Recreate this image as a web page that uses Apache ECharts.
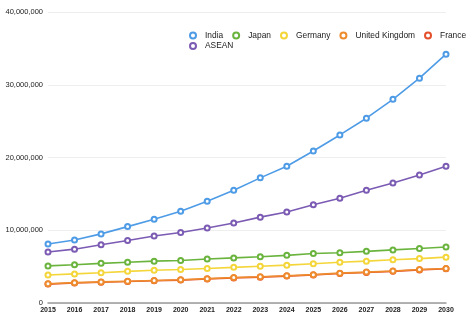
<!DOCTYPE html>
<html>
<head>
<meta charset="utf-8">
<script src="https://cdn.jsdelivr.net/npm/echarts@6/dist/echarts.min.js"></script>
<style>
  html, body { margin: 0; padding: 0; background: #fff; }
  #chart { width: 474px; height: 324px; }
</style>
</head>
<body>
<div id="chart"></div>
<script>
// Years on the category axis
const years = ['2015','2016','2017','2018','2019','2020','2021','2022','2023','2024','2025','2026','2027','2028','2029','2030'];

// Series values
const india   = [8100000, 8650000, 9500000, 10500000, 11500000, 12600000, 14000000, 15500000, 17200000, 18800000, 20900000, 23100000, 25400000, 28000000, 30900000, 34200000];
const asean   = [7000000, 7400000, 8000000, 8600000, 9200000, 9700000, 10300000, 11000000, 11800000, 12500000, 13500000, 14400000, 15500000, 16500000, 17600000, 18800000];
const japan   = [5100000, 5250000, 5450000, 5600000, 5750000, 5850000, 6050000, 6200000, 6350000, 6550000, 6800000, 6900000, 7100000, 7300000, 7500000, 7700000];
const germany = [3850000, 4000000, 4150000, 4350000, 4500000, 4600000, 4750000, 4900000, 5050000, 5200000, 5400000, 5600000, 5750000, 5950000, 6100000, 6300000];
const uk      = [2650000, 2800000, 2900000, 3000000, 3100000, 3200000, 3350000, 3500000, 3600000, 3750000, 3900000, 4100000, 4250000, 4400000, 4600000, 4750000];
const france  = [2600000, 2750000, 2850000, 2950000, 3050000, 3150000, 3300000, 3450000, 3550000, 3700000, 3850000, 4050000, 4200000, 4350000, 4550000, 4700000];

const seriesDefs = [
  { name: 'India',          data: india,   color: '#4e9be6' },
  { name: 'Japan',          data: japan,   color: '#6ab43e' },
  { name: 'Germany',        data: germany, color: '#f4d63a' },
  { name: 'United Kingdom', data: uk,      color: '#ee8b2d' },
  { name: 'France',         data: france,  color: '#e4502c' },
  { name: 'ASEAN',          data: asean,   color: '#7b5bb3' }
];

const legendBase = {
  icon: 'emptyCircle',
  itemWidth: 6,
  itemHeight: 6,
  itemGap: 9,
  orient: 'horizontal',
  width: 320,
  textStyle: { fontSize: 8.4, color: '#1a1a1a', padding: [0, 0, 0, 4] }
};

const chart = echarts.init(document.getElementById('chart'), null, { renderer: 'canvas' });

chart.setOption({
  animation: false,
  textStyle: { fontFamily: 'Liberation Sans, Arial, sans-serif' },
  grid: { left: 48, right: 28, top: 12, bottom: 21, containLabel: false },
  legend: [
    Object.assign({}, legendBase, { left: 184, top: 26.5, data: ['India', 'Japan', 'Germany', 'United Kingdom', 'France'] }),
    Object.assign({}, legendBase, { left: 184, top: 37, data: ['ASEAN'] })
  ],
  xAxis: {
    type: 'category',
    data: years,
    boundaryGap: false,
    axisLine: { lineStyle: { color: '#999', width: 1.5 } },
    axisTick: { show: false },
    axisLabel: { fontSize: 7, color: '#222', margin: 4, fontWeight: 'bold' },
    splitLine: { show: false }
  },
  yAxis: {
    type: 'value',
    min: 0,
    max: 40000000,
    interval: 10000000,
    axisLine: { show: false },
    axisTick: { show: false },
    axisLabel: {
      fontSize: 7.5,
      color: '#222',
      margin: 5,
      formatter: v => v.toLocaleString('en-US')
    },
    splitLine: { lineStyle: { color: '#eeeeee', width: 1 } }
  },
  series: seriesDefs.map(s => ({
    name: s.name,
    type: 'line',
    data: s.data,
    symbol: 'emptyCircle',
    symbolSize: 5,
    showAllSymbol: true,
    itemStyle: { color: s.color, borderWidth: 1.5 },
    lineStyle: { color: s.color, width: 1.6 },
    z: s.name === 'United Kingdom' ? 3 : 2
  }))
});
</script>
</body>
</html>
